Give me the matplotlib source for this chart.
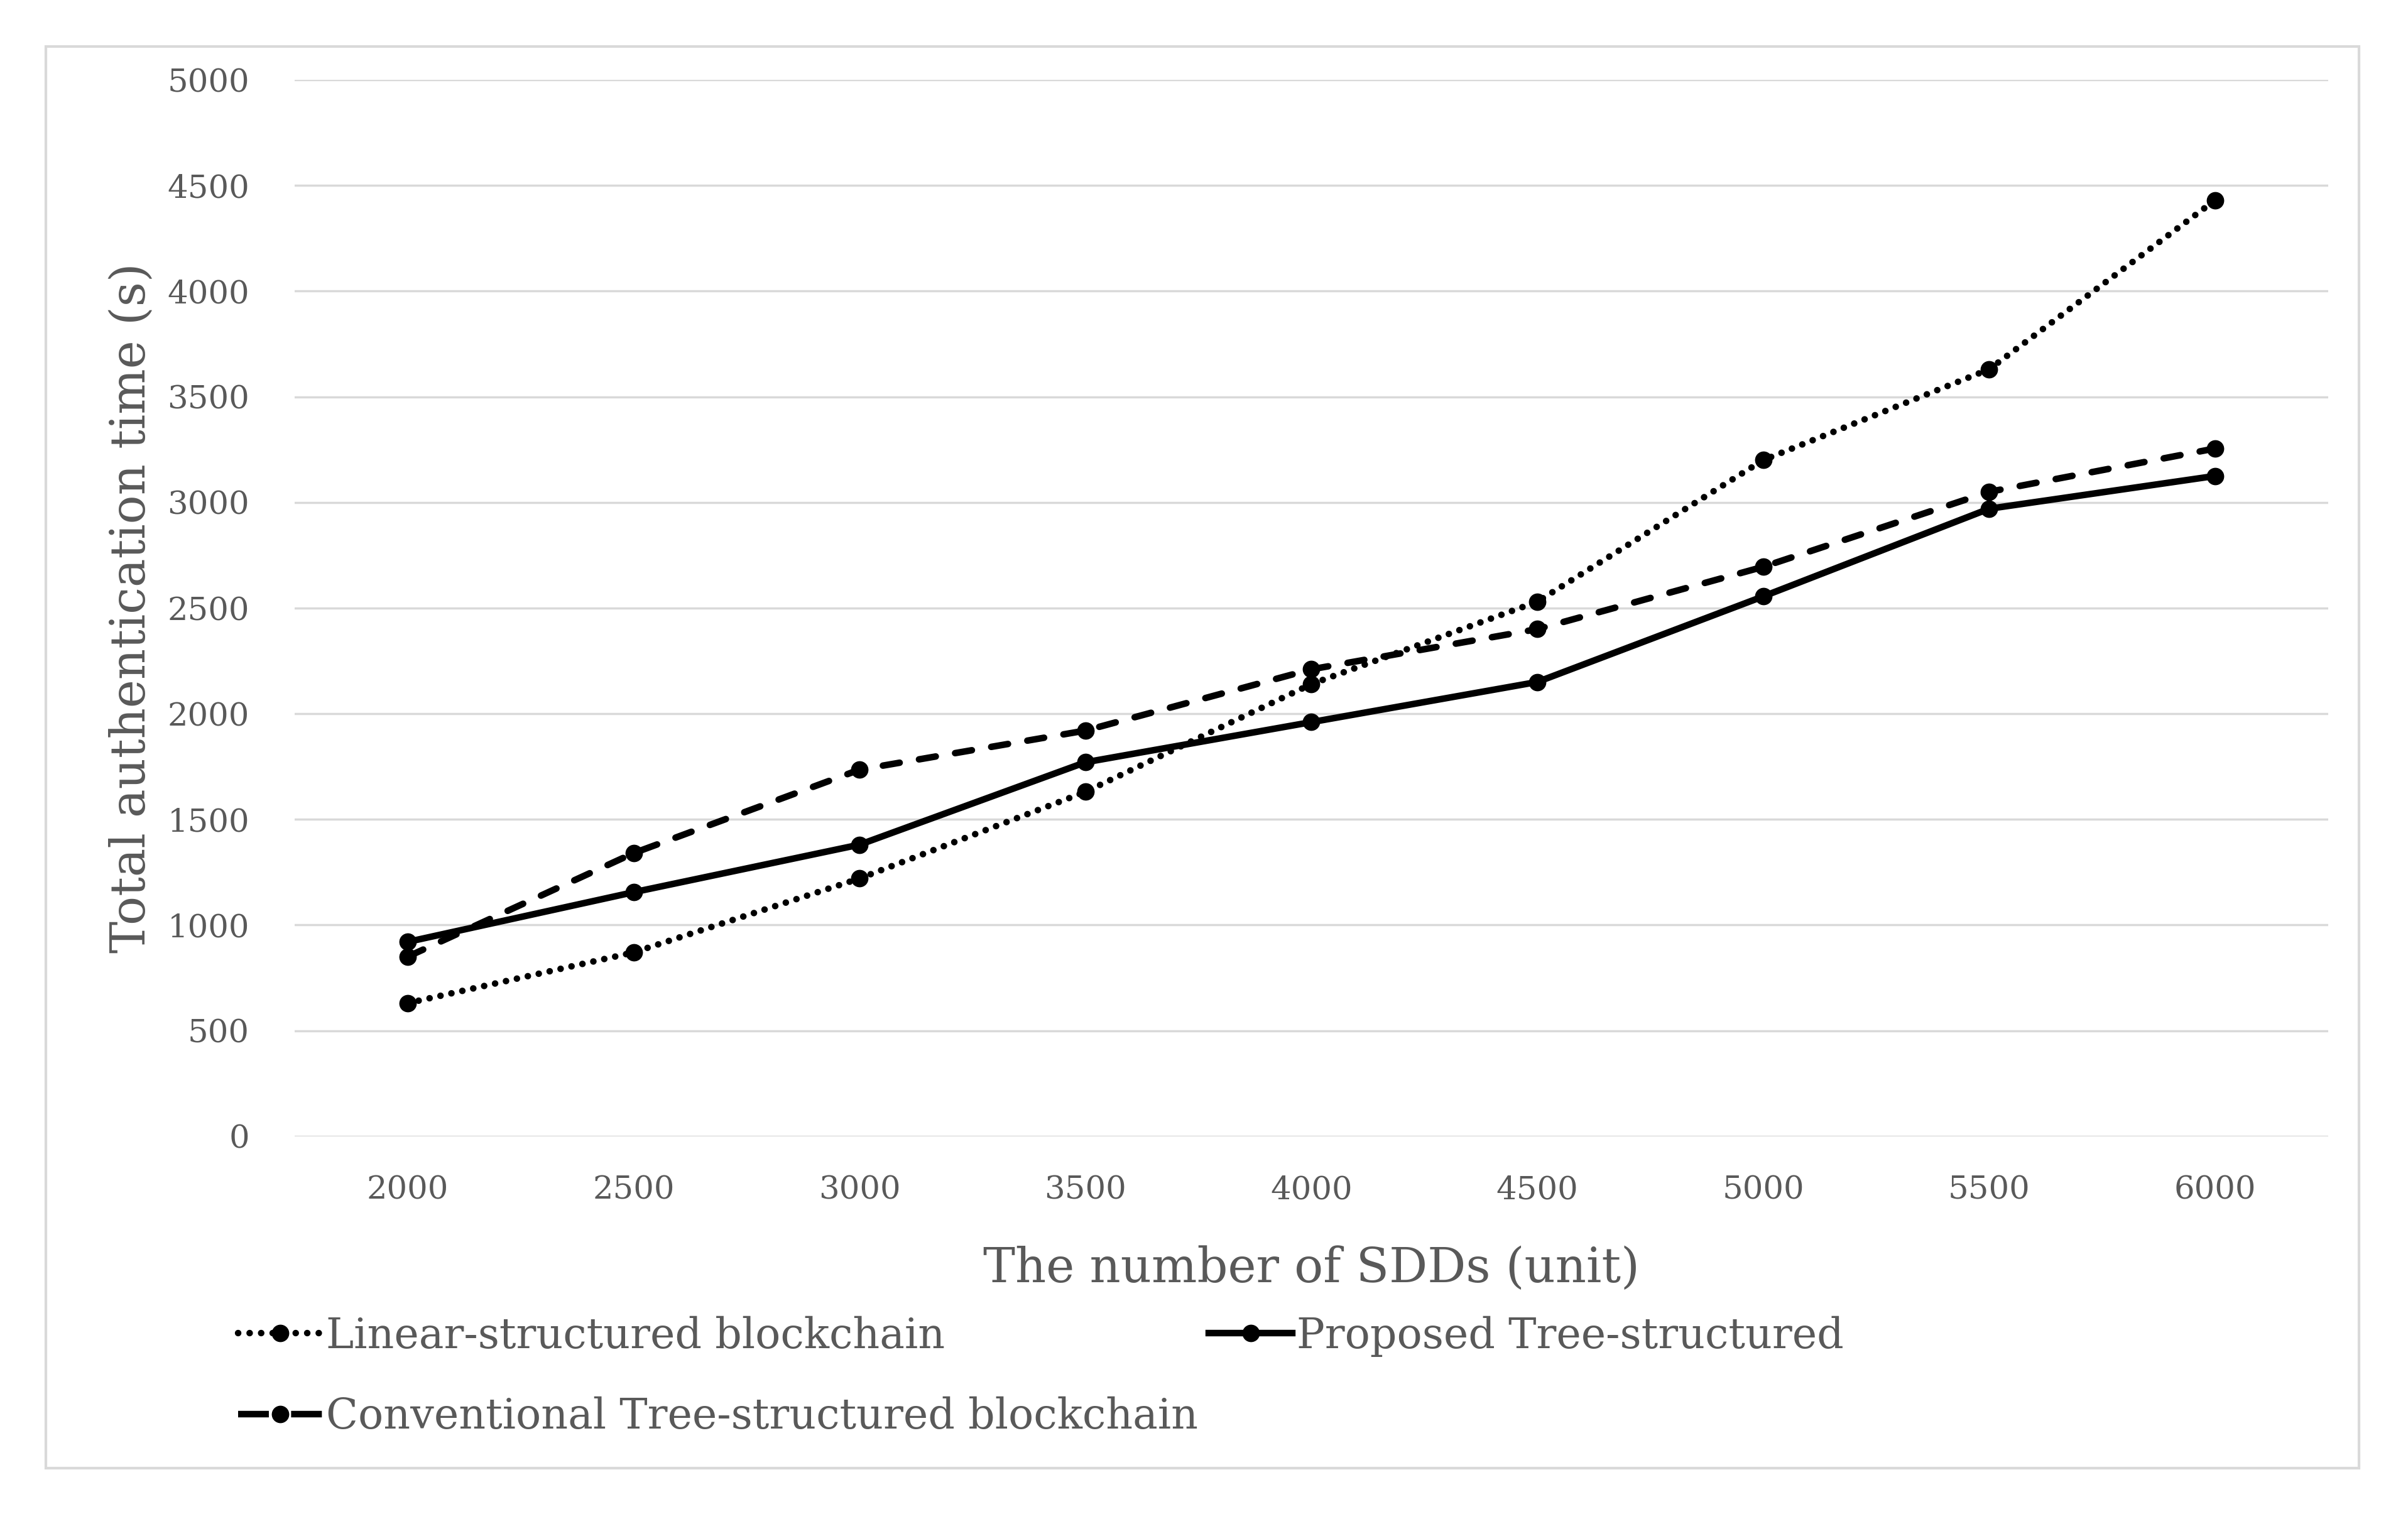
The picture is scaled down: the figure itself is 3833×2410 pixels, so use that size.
import matplotlib
matplotlib.use("Agg")
import matplotlib.pyplot as plt
from matplotlib.lines import Line2D
from matplotlib.patches import Rectangle

sdd_counts = ["2000", "2500", "3000", "3500", "4000", "4500", "5000", "5500", "6000"]
linear_time = [630, 870, 1220, 1630, 2140, 2530, 3200, 3630, 4430]
proposed_time = [920, 1155, 1380, 1770, 1960, 2150, 2555, 2970, 3125]
conventional_time = [850, 1340, 1735, 1920, 2210, 2400, 2695, 3050, 3255]
y_ticks = [0, 500, 1000, 1500, 2000, 2500, 3000, 3500, 4000, 4500, 5000]
labels = ["Linear-structured blockchain", "Proposed Tree-structured",
          "Conventional Tree-structured blockchain"]

grey_text = "#595959"
grid_grey = "#d9d9d9"

plt.rcParams["font.family"] = ["DejaVu Serif"]

fig = plt.figure(figsize=(38.33, 24.10), dpi=100)
ax = fig.add_axes([0.1224, 0.2495, 0.8444, 0.6978])

x = list(range(len(sdd_counts)))
lw = 7.5
ms = 19
ax.plot(x, linear_time, color="black", lw=lw, dashes=(0.01, 1.7),
        dash_capstyle="round", marker="o", ms=ms)
ax.plot(x, proposed_time, color="black", lw=lw, ls="-", marker="o", ms=ms)
ax.plot(x, conventional_time, color="black", lw=lw, dashes=(2.6, 3.0),
        dash_capstyle="round", marker="o", ms=ms)

ax.set_xlim(-0.5, len(sdd_counts) - 0.5)
ax.set_ylim(0, 5000)
ax.set_xticks(x)
ax.set_xticklabels(sdd_counts)
ax.set_yticks(y_ticks)
ax.tick_params(axis="both", length=0, labelsize=37, labelcolor=grey_text)
ax.tick_params(axis="x", pad=44)
ax.tick_params(axis="y", pad=52)
ax.grid(axis="y", color=grid_grey, lw=2.5)
ax.set_axisbelow(True)
for s in ax.spines.values():
    s.set_visible(False)

ax.set_xlabel("The number of SDDs (unit)", fontsize=55, color=grey_text, labelpad=46)
ax.set_ylabel("Total authentication time (s)", fontsize=55, color=grey_text, labelpad=14)

# legend handles, dash patterns tuned so the short sample reads like the original
h_lin = Line2D([], [], color="black", lw=lw, dashes=(0.01, 1.75),
               dash_capstyle="round", marker="o", ms=ms, label=labels[0])
h_pro = Line2D([], [], color="black", lw=lw, ls="-", marker="o", ms=ms, label=labels[1])
h_con = Line2D([], [], color="black", lw=lw, dashes=(4.7, 3.4),
               dash_capstyle="butt", marker="o", ms=ms, label=labels[2])

leg_kw = dict(frameon=False, fontsize=48, handlelength=2.0, handletextpad=0.1,
              labelspacing=0.95, borderpad=0, borderaxespad=0, labelcolor=grey_text)
fig.legend(handles=[h_lin, h_con], loc="upper left",
           bbox_to_anchor=(0.099, 0.131), **leg_kw)
fig.legend(handles=[h_pro], loc="upper left",
           bbox_to_anchor=(0.502, 0.131), **leg_kw)

fig.patches.append(Rectangle((0.0191, 0.0304), 0.9605, 0.9391, transform=fig.transFigure,
                             fill=False, edgecolor=grid_grey, lw=3))

fig.savefig("out.png", dpi=100)
